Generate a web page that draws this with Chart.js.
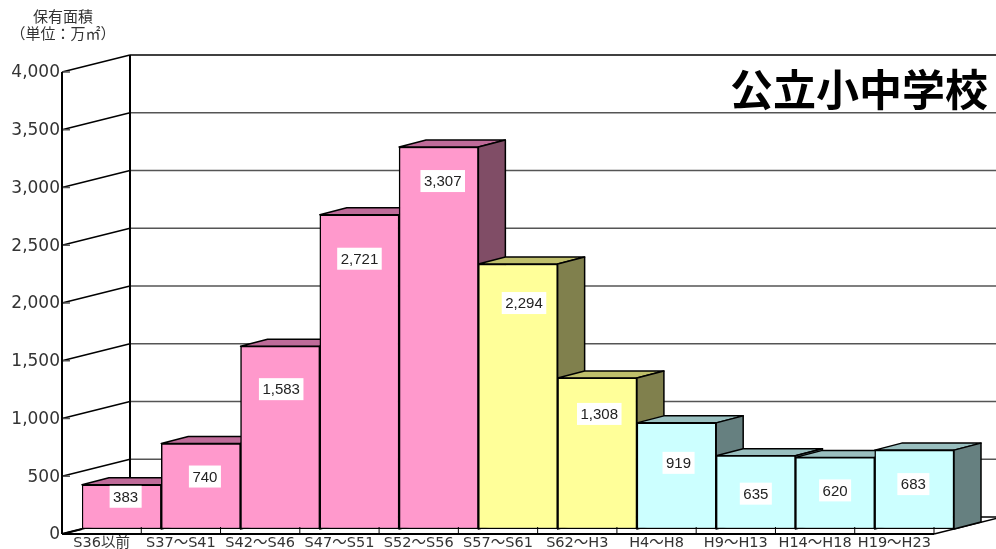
<!DOCTYPE html>
<html>
<head>
<meta charset="utf-8">
<style>
  html, body { margin: 0; padding: 0; background: #fff; }
  canvas { display: block; }
</style>
<script src="https://cdn.jsdelivr.net/npm/chart.js@4"></script>
</head>
<body>
<canvas id="chart" width="996" height="549"></canvas>
<script>
const categories = ['S36以前', 'S37～S41', 'S42～S46', 'S47～S51', 'S52～S56', 'S57～S61', 'S62～H3', 'H4～H8', 'H9～H13', 'H14～H18', 'H19～H23'];
const areaValues = [383, 740, 1583, 2721, 3307, 2294, 1308, 919, 635, 620, 683];
const chartTitle = '公立小中学校';
const axisTitle = ['保有面積', '（単位：万㎡）'];

// front, top, side colours per era
const pink = ['#ff99cc', '#bf6b99', '#804d66'];
const yellow = ['#ffff99', '#bfbf6b', '#80804d'];
const cyan = ['#ccffff', '#99bfbf', '#668080'];
const barColors = [pink, pink, pink, pink, pink, yellow, yellow, cyan, cyan, cyan, cyan];

// value boxes were placed by hand in the original: [dx from bar centre, dy from bar top]
const labelNudge = [[4, 12], [4, 33], [1, 43], [0, 44], [4, 34], [6, 39], [2, 36], [2, 40], [0, 38], [0, 33], [-1, 34]];

// the bars sit inside the box: axis plane is (-20,+5) off them, back wall (+48,-12)
const FRONT_DX = -20, FRONT_DY = 5;
const BACK_DX = 48, BACK_DY = -12;
const BAR_DX = 27, BAR_DY = -7;

function line(ctx, x1, y1, x2, y2, color, width) {
    ctx.strokeStyle = color;
    ctx.lineWidth = width;
    ctx.beginPath();
    ctx.moveTo(x1, y1);
    ctx.lineTo(x2, y2);
    ctx.stroke();
}

function face(ctx, pts, color) {
    ctx.fillStyle = color;
    ctx.strokeStyle = '#000';
    ctx.lineWidth = 1.5;
    ctx.lineJoin = 'round';
    ctx.beginPath();
    pts.forEach((p, i) => i ? ctx.lineTo(p[0], p[1]) : ctx.moveTo(p[0], p[1]));
    ctx.closePath();
    ctx.fill();
    ctx.stroke();
}

const boxPlugin = {
    id: 'box',
    // walls, floor and the tops and sides of the bars, behind the native bar fronts
    beforeDatasetsDraw(chart) {
        const { ctx, scales: { x, y }, chartArea: area, width } = chart;
        const frontX = area.left + FRONT_DX;
        const backX = area.left + BACK_DX;
        const frontRight = area.right + FRONT_DX;

        ctx.save();
        y.ticks.forEach(t => {
            const py = y.getPixelForValue(t.value);
            const isEdge = t.value === 0 || t.value === y.max;
            line(ctx, backX, py + BACK_DY, width, py + BACK_DY, isEdge ? '#000' : '#555', 1.5);
            line(ctx, frontX, py + FRONT_DY, backX, py + BACK_DY, '#000', 1.5);
            line(ctx, frontX, py + FRONT_DY, frontX + 8, py + FRONT_DY, '#555', 1.5);
        });
        const y0 = y.getPixelForValue(0), yMax = y.getPixelForValue(y.max);
        line(ctx, backX, yMax + BACK_DY, backX, y0 + BACK_DY, '#000', 2);
        line(ctx, frontX, yMax + FRONT_DY, frontX, y0 + FRONT_DY, '#000', 2);
        line(ctx, frontX, y0 + FRONT_DY, frontRight, y0 + FRONT_DY, '#000', 2);
        line(ctx, frontRight, y0 + FRONT_DY, frontRight + BACK_DX - FRONT_DX, y0 + BACK_DY, '#000', 1.5);

        chart.getDatasetMeta(0).data.forEach((bar, i) => {
            const l = bar.x - bar.width / 2, r = bar.x + bar.width / 2;
            const t = bar.y, b = bar.base;
            face(ctx, [[l, t], [l + BAR_DX, t + BAR_DY], [r + BAR_DX, t + BAR_DY], [r, t]], barColors[i][1]);
            face(ctx, [[r, t], [r + BAR_DX, t + BAR_DY], [r + BAR_DX, b + BAR_DY], [r, b]], barColors[i][2]);
        });
        ctx.restore();
    },
    afterDatasetsDraw(chart) {
        const { ctx, scales: { x, y }, chartArea: area } = chart;
        const y0 = y.getPixelForValue(0);
        const meta = chart.getDatasetMeta(0);

        ctx.save();
        // category ticks of the axis plane run over the foot of the bars
        categories.forEach((c, i) => {
            const px = x.getPixelForValue(i) + x.width / categories.length / 2 + FRONT_DX;
            line(ctx, px, y0 - 2, px, y0 + FRONT_DY, '#000', 1);
        });
        line(ctx, area.left + FRONT_DX, y0 + FRONT_DY, area.left, y0, '#000', 2);

        // value boxes
        ctx.font = '15px "Liberation Sans"';
        ctx.textAlign = 'center';
        ctx.textBaseline = 'middle';
        meta.data.forEach((bar, i) => {
            const text = areaValues[i].toLocaleString('en-US');
            const cx = bar.x + labelNudge[i][0], cy = bar.y + labelNudge[i][1];
            const w = ctx.measureText(text).width + 7;
            ctx.fillStyle = '#fff';
            ctx.fillRect(cx - w / 2, cy - 11, w, 22);
            ctx.fillStyle = '#222';
            ctx.fillText(text, cx, cy + 1);
        });

        // big title and axis caption
        ctx.fillStyle = '#000';
        ctx.font = 'bold 43px "Noto Sans CJK JP"';
        ctx.textAlign = 'right';
        ctx.fillText(chartTitle, 988, 90);
        ctx.fillStyle = '#333';
        ctx.font = '15px "Noto Sans CJK JP"';
        ctx.textAlign = 'center';
        ctx.fillText(axisTitle[0], 63, 16);
        ctx.fillText(axisTitle[1], 63, 33);
        ctx.restore();
    }
};

new Chart(document.getElementById('chart').getContext('2d'), {
    type: 'bar',
    data: {
        labels: categories,
        datasets: [{
            data: areaValues,
            backgroundColor: barColors.map(c => c[0]),
            borderColor: '#000',
            borderWidth: 1.5,
            borderSkipped: false,
            barPercentage: 1,
            categoryPercentage: 1
        }]
    },
    plugins: [boxPlugin],
    options: {
        responsive: false,
        animation: false,
        layout: { padding: { top: 67, right: 42, left: 0, bottom: 0 } },
        plugins: { legend: { display: false }, tooltip: { enabled: false } },
        scales: {
            x: {
                afterFit: s => { s.height = 20; s.paddingLeft = 0; s.paddingRight = 0; },
                grid: { display: false, drawTicks: false },
                border: { display: false },
                ticks: {
                    autoSkip: false,
                    maxRotation: 0,
                    padding: 6,
                    labelOffset: FRONT_DX,
                    color: '#333',
                    font: { family: '"DejaVu Sans", "Noto Sans CJK JP"', size: 14.5 }
                }
            },
            y: {
                min: 0,
                max: 4000,
                afterFit: s => { s.width = 82; s.paddingTop = 0; s.paddingBottom = 0; },
                grid: { display: false, drawTicks: false },
                border: { display: false },
                ticks: {
                    stepSize: 500,
                    padding: 22,
                    labelOffset: FRONT_DY + 1,
                    color: '#333',
                    font: { family: '"DejaVu Sans"', size: 17 },
                    callback: v => v.toLocaleString('en-US')
                }
            }
        }
    }
});
</script>
</body>
</html>
